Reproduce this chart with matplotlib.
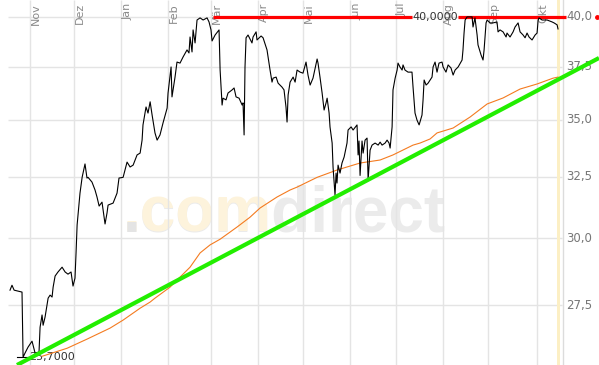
import numpy as np
import matplotlib
matplotlib.use('Agg')
import matplotlib.pyplot as plt
import matplotlib.transforms as mtransforms


# days after 1 Nov  /  closing price
price_day = [-13.2, -11.9, -10.5, -5.3, -4.6, -3.3, -1.3, 1.3, 2.0, 3.3, 5.9, 6.6, 7.9, 8.6, 9.9,
             11.9, 13.2, 14.5, 15.2, 16.5, 18.4, 21.1, 23.1, 25.0, 27.0, 28.3, 29.6, 30.3, 31.0,
             32.9, 34.3, 34.9, 36.2, 37.5, 38.2, 40.8, 42.8, 44.1, 45.5, 47.4, 48.1, 49.4, 50.7,
             51.4, 54.7, 57.3, 58.6, 61.3, 63.9, 65.9, 67.9, 70.5, 72.5, 73.8, 74.4, 76.4, 77.7,
             79.1, 80.4, 82.3, 83.7, 85.6, 87.6, 90.3, 90.9, 92.9, 93.5, 95.5, 96.8, 98.8, 100.8,
             103.4, 104.7, 105.4, 106.7, 107.4, 108.7, 110.0, 112.0, 114.0, 116.6, 117.9, 119.2,
             119.9, 121.9, 124.5, 125.2, 126.5, 127.1, 129.1, 130.4, 133.1, 134.4, 135.7, 137.7,
             139.7, 140.3, 141.0, 141.6, 142.3, 143.6, 146.2, 146.9, 148.9, 149.5, 152.2, 153.5,
             156.1, 158.1, 159.4, 160.1, 162.1, 163.4, 166.0, 167.3, 168.6, 169.3, 170.0, 171.3,
             173.3, 174.6, 175.9, 177.9, 179.8, 181.8, 183.1, 184.5, 186.4, 189.1, 189.7, 191.0,
             192.4, 193.7, 195.0, 195.7, 197.0, 197.6, 199.0, 199.6, 200.9, 201.6, 202.2, 202.9,
             204.2, 205.5, 206.9, 208.8, 209.5, 211.5, 212.8, 215.4, 216.1, 216.7, 217.4, 218.7,
             219.4, 220.7, 222.0, 222.7, 224.0, 225.3, 227.3, 229.3, 230.6, 231.9, 233.9, 235.2,
             236.5, 237.2, 238.5, 239.1, 240.5, 241.8, 242.4, 243.7, 245.1, 245.7, 247.0, 249.0,
             251.6, 252.3, 253.6, 254.9, 256.3, 258.2, 258.9, 259.6, 260.9, 262.2, 264.8, 265.5,
             266.8, 268.1, 269.4, 271.4, 272.1, 274.0, 275.4, 277.3, 278.7, 280.0, 282.0, 284.6,
             285.2, 285.9, 286.6, 287.9, 291.2, 291.8, 293.1, 294.5, 295.1, 297.1, 298.4, 299.1,
             300.4, 301.1, 303.0, 305.0, 307.6, 308.3, 309.6, 311.6, 313.6, 314.2, 316.2, 318.2,
             319.5, 321.5, 322.8, 324.8, 326.1, 327.4, 328.7, 330.7, 332.7, 334.0, 334.7, 335.3,
             337.3, 340.6, 343.9, 345.2, 347.2, 347.8]
price_close = [28.04, 28.22, 28.04, 27.97, 25.70, 25.84, 26.04, 26.24, 26.10, 25.84, 25.87, 26.72,
               27.15, 26.79, 27.08, 27.75, 27.86, 27.79, 28.15, 28.56, 28.71, 28.89, 28.71, 28.63,
               28.71, 28.19, 28.48, 29.43, 30.52, 31.81, 32.47, 32.65, 33.04, 32.44, 32.47, 32.27,
               31.94, 31.65, 31.28, 31.44, 31.12, 30.56, 31.00, 31.32, 31.40, 31.81, 32.44, 32.47,
               33.12, 32.91, 32.99, 33.43, 33.51, 34.08, 34.76, 35.58, 35.30, 35.82, 35.21, 34.40,
               34.08, 34.31, 34.85, 35.53, 36.23, 37.48, 36.05, 36.99, 37.72, 37.67, 37.97, 38.32,
               38.17, 38.97, 38.22, 39.33, 38.67, 39.84, 39.95, 39.84, 39.95, 39.74, 39.33, 38.77,
               39.07, 39.33, 37.33, 35.67, 35.99, 35.91, 36.23, 36.38, 36.47, 36.05, 35.99, 35.67,
               35.77, 34.31, 37.48, 38.93, 39.07, 38.67, 38.97, 39.23, 38.82, 39.02, 38.93, 38.32,
               37.33, 36.75, 36.94, 36.99, 36.70, 36.51, 36.38, 35.58, 34.89, 36.14, 36.75, 36.99,
               36.75, 37.33, 37.23, 37.18, 37.72, 37.09, 36.61, 36.94, 37.87, 37.67, 36.99, 36.23,
               35.44, 35.77, 35.99, 35.30, 34.67, 33.95, 32.91, 31.73, 32.65, 32.23, 32.99, 32.65,
               33.08, 33.34, 33.95, 34.53, 34.67, 34.53, 34.76, 33.43, 34.04, 32.55, 34.04, 33.51,
               34.08, 34.17, 32.36, 33.64, 33.86, 33.95, 33.86, 33.99, 33.86, 33.95, 34.08, 33.95,
               33.73, 34.67, 36.38, 36.94, 37.33, 37.67, 37.48, 37.33, 37.58, 37.33, 37.23, 37.23,
               36.51, 35.30, 34.98, 34.76, 35.21, 35.91, 36.85, 36.61, 36.70, 36.99, 37.48, 37.72,
               37.23, 37.67, 37.72, 37.48, 37.23, 37.58, 37.43, 37.09, 37.33, 37.48, 37.82, 38.32,
               39.17, 39.84, 40.00, 40.00, 39.48, 39.95, 39.07, 38.57, 38.07, 37.82, 38.32, 39.69,
               39.84, 39.69, 39.69, 39.74, 39.23, 39.33, 39.23, 38.97, 39.17, 38.97, 39.23, 39.48,
               39.69, 39.23, 39.07, 38.93, 39.17, 38.97, 38.82, 39.07, 39.17, 39.84, 39.95, 39.84,
               39.84, 39.74, 39.69, 39.59, 39.38]

# moving average (orange)
ma_day = [7.9, 24.4, 37.5, 52.7, 61.3, 72.5, 79.1, 82.3, 92.2, 98.8, 105.4, 112.0, 118.6, 125.2,
          136.4, 144.9, 151.5, 162.7, 171.3, 175.9, 189.1, 202.2, 217.4, 230.6, 239.1, 252.3,
          256.9, 263.5, 268.1, 278.7, 289.9, 301.1, 311.6, 322.8, 334.0, 344.6, 347.8]
ma_val = [25.73, 26.00, 26.31, 26.69, 26.97, 27.39, 27.61, 27.75, 28.15, 28.52, 28.89, 29.43, 29.74,
          29.96, 30.44, 30.83, 31.20, 31.65, 31.94, 32.06, 32.47, 32.78, 33.08, 33.21, 33.43, 33.86,
          33.95, 34.13, 34.40, 34.62, 35.12, 35.72, 36.00, 36.42, 36.66, 36.94, 36.99]

trend_day = [-8.6, 374.8]
trend_val = [25.44, 37.92]

resist_level = 40.0
resist_spans = [(120.6, 251.6), (282.0, 353.1)]

low_day = -4.6
low_val = 25.70

month_day = [0, 29, 60, 91, 119, 150, 180, 211, 241, 272, 302, 334]
month_lbl = ['Nov', 'Dez', 'Jan', 'Feb', 'Mär', 'Apr', 'Mai', 'Jun', 'Jul', 'Aug', 'Sep', 'Okt']

ytick_val = [27.5, 30.0, 32.5, 35.0, 37.5, 40.0]
ytick_lbl = ['27,5', '30,0', '32,5', '35,0', '37,5', '40,0']


grid_c = '#e4e4e4'
x_lo, x_hi = -19.8, 374.8
grid_x0, grid_x1 = -14.5, 350.5

fig = plt.figure(figsize=(5.99, 3.65), dpi=100)
ax = fig.add_axes([0, 0, 1, 1])
ax.set_yscale('log')
ax.set_xlim(x_lo, x_hi)
ax.set_ylim(25.44, 40.89)
ax.set_axis_off()

xd_ya = mtransforms.blended_transform_factory(ax.transData, ax.transAxes)
xa_yd = mtransforms.blended_transform_factory(ax.transAxes, ax.transData)

# watermark
wm = dict(transform=ax.transAxes, fontsize=46, fontweight='bold', ha='left', va='baseline',
          family=['Liberation Sans Narrow', 'Liberation Sans'], zorder=0)
ax.text(0.205, 0.365, '.comdirect', color='#ebebeb', **wm)
ax.text(0.205, 0.365, '.com', color='#fdf3dc', **wm)
ax.text(0.205, 0.365, '.', color='#e4e4e4', **wm)

# grid
ax.hlines(ytick_val, grid_x0, grid_x1, color=grid_c, lw=1, zorder=1)
ax.vlines(month_day, 0, 1, transform=xd_ya, color=grid_c, lw=1, zorder=1)
ax.axvspan(347.0, 349.2, color='#fcefc4', lw=0, zorder=1)
ax.axvline(351.0, color='#dcdcdc', lw=1, zorder=1)

for d, m in zip(month_day, month_lbl):
    ax.text(d + 0.7, 0.992, m, transform=xd_ya, rotation=90, ha='left', va='top',
            fontsize=8, color='#8a8a8a', zorder=2)

for v, s in zip(ytick_val, ytick_lbl):
    ax.text(0.945, v, s, transform=xa_yd, ha='left', va='center', fontsize=8.5,
            color='#777777', zorder=2)

# resistance
for a, b in resist_spans:
    ax.plot([a, b], [resist_level, resist_level], color='#ff0000', lw=2.3,
            solid_capstyle='butt', zorder=3)
ax.plot([0.9967], [resist_level], transform=xa_yd, marker='o', ms=2.5, color='#ff0000',
        clip_on=False, zorder=3)
ax.text(0.689, resist_level, '40,0000', transform=xa_yd, ha='left', va='center',
        fontsize=8, color='#333333', zorder=2)

# low marker
ax.plot([low_day - 4.0, low_day + 3.3], [low_val, low_val], color='black', lw=0.8, zorder=4)
ax.text(0.0484, low_val, '25,7000', transform=xa_yd, ha='left', va='center',
        fontsize=8, color='#333333', zorder=2)

ax.plot(ma_day, ma_val, color='#f47b20', lw=0.8, zorder=4)
ax.plot(price_day, price_close, color='black', lw=0.8, zorder=5)
ax.plot(trend_day, trend_val, color='#22ee00', lw=3.0, solid_capstyle='butt', zorder=6,
        clip_on=False)

fig.savefig('out.png', dpi=100)
